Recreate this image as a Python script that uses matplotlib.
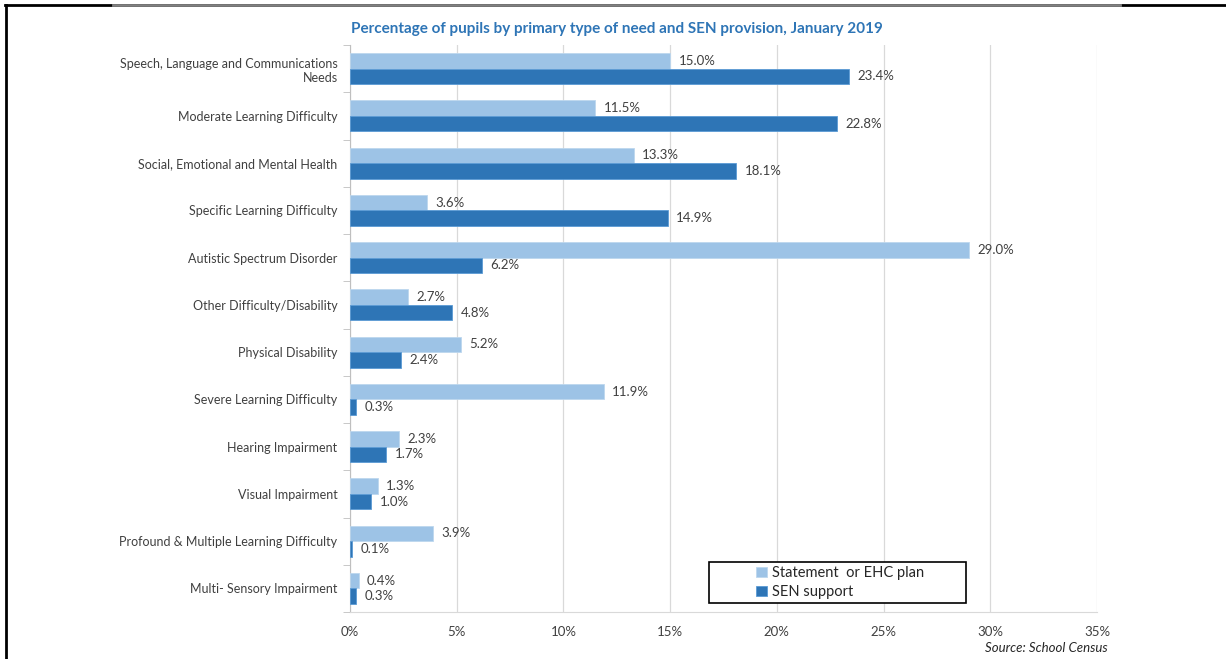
import numpy as np
import matplotlib
matplotlib.use("Agg")
import matplotlib.pyplot as plt
from matplotlib import ticker as tk
from matplotlib.lines import Line2D
from matplotlib.patches import Rectangle

plt.rcParams['font.family'] = ['Lato', 'DejaVu Sans']

needs = [
    "Speech, Language and Communications\nNeeds",
    "Moderate Learning Difficulty",
    "Social, Emotional and Mental Health",
    "Specific Learning Difficulty",
    "Autistic Spectrum Disorder",
    "Other Difficulty/Disability",
    "Physical Disability",
    "Severe Learning Difficulty",
    "Hearing Impairment",
    "Visual Impairment",
    "Profound & Multiple Learning Difficulty",
    "Multi- Sensory Impairment",
]
statement_ehc = [15.0, 11.5, 13.3, 3.6, 29.0, 2.7, 5.2, 11.9, 2.3, 1.3, 3.9, 0.4]
sen_support = [23.4, 22.8, 18.1, 14.9, 6.2, 4.8, 2.4, 0.3, 1.7, 1.0, 0.1, 0.3]
xticks = [0, 5, 10, 15, 20, 25, 30, 35]

light = '#9DC3E6'
dark = '#2E75B6'
grid_c = '#D9D9D9'
text_c = '#404040'

W, H = 1226, 659
fig = plt.figure(figsize=(W / 100, H / 100), dpi=100)
ax = fig.add_axes([350 / W, 1 - 612 / H, (1097 - 350) / W, (612 - 45) / H])

n = len(needs)
pos = np.arange(n)
h = 0.33
ax.barh(pos - h / 2, statement_ehc, height=h, color=light, edgecolor='#BDD7EE',
        linewidth=0.6, label='Statement  or EHC plan', zorder=3)
ax.barh(pos + h / 2, sen_support, height=h, color=dark, edgecolor='#5B9BD5',
        linewidth=0.6, label='SEN support', zorder=3)

for i in range(n):
    ax.annotate('%.1f%%' % statement_ehc[i], (statement_ehc[i], pos[i] - h / 2),
                xytext=(6, 0), textcoords='offset points', va='center',
                fontsize=9.5, color=text_c)
    ax.annotate('%.1f%%' % sen_support[i], (sen_support[i], pos[i] + h / 2),
                xytext=(6, 0), textcoords='offset points', va='center',
                fontsize=9.5, color=text_c)

ax.set_ylim(n - 0.5, -0.5)
ax.set_xlim(0, 35)
ax.set_xticks(xticks)
ax.xaxis.set_major_formatter(tk.FuncFormatter(lambda x, p: '%d%%' % x))
ax.set_yticks(pos)
ax.set_yticklabels(needs, fontsize=9, color=text_c)
ax.yaxis.set_minor_locator(tk.FixedLocator(np.arange(-0.5, n, 1)))
ax.tick_params(axis='y', which='major', length=0, pad=9)
ax.tick_params(axis='y', which='minor', length=5, color='#BFBFBF', direction='out')
ax.tick_params(axis='x', length=0, labelsize=9.5, labelcolor=text_c, pad=10)
ax.grid(axis='x', color=grid_c, linewidth=0.9, zorder=0)
for side in ['top', 'right']:
    ax.spines[side].set_visible(False)
ax.spines['left'].set_color('#BFBFBF')
ax.spines['bottom'].set_color('#D9D9D9')

fig.text(617 / W, 1 - 29 / H,
         'Percentage of pupils by primary type of need and SEN provision, January 2019',
         ha='center', va='center', fontsize=11, fontweight='bold', color='#2E75B6')

# legend inside a wide black box
fig.add_artist(Rectangle((709 / W, 1 - 603 / H), (966 - 709) / W, (603 - 562) / H,
                         transform=fig.transFigure, facecolor='white', edgecolor='black',
                         linewidth=1.2, zorder=4))
leg = fig.legend(*ax.get_legend_handles_labels(), loc='upper left',
                 bbox_to_anchor=(755 / W, 1 - 565 / H), fontsize=10.5, frameon=False,
                 handlelength=0.7, handleheight=0.7, handletextpad=0.35,
                 borderpad=0.1, labelspacing=0.3, borderaxespad=0)
for t in leg.get_texts():
    t.set_color('#262626')
leg.set_zorder(5)

fig.text(1108 / W, 1 - 648 / H, 'Source: School Census', ha='right', va='center',
         fontsize=9.5, style='italic', color='#262626')

# frame edges on the top and left of the page
fig.add_artist(Line2D([5 / W, 1], [1 - 5 / H, 1 - 5 / H], color='black', lw=2))
fig.add_artist(Line2D([113 / W, 1120 / W], [1 - 5 / H, 1 - 5 / H], color='#808080', lw=2))
fig.add_artist(Line2D([6 / W, 6 / W], [0, 1 - 5 / H], color='black', lw=2))

fig.savefig('out.png', dpi=100)
